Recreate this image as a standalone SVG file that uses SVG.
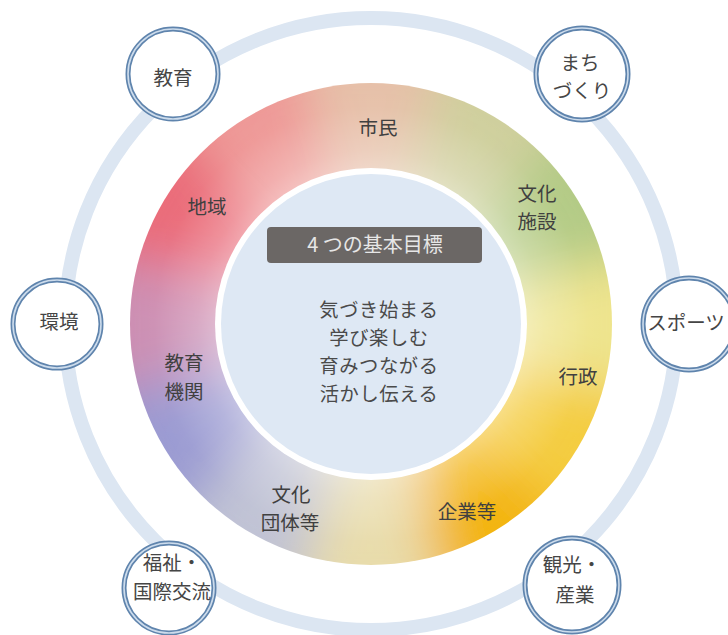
<svg xmlns="http://www.w3.org/2000/svg" width="728" height="635" viewBox="0 0 728 635">
<style>
.lbl{font-family:"Noto Sans CJK JP","Noto Sans",sans-serif;font-size:19.5px;fill:#404040;text-anchor:middle}
.nd{font-family:"Noto Sans CJK JP","Noto Sans",sans-serif;font-size:19.5px;fill:#454545;text-anchor:middle}
.goal{font-family:"Noto Sans CJK JP","Noto Sans",sans-serif;font-size:19.3px;fill:#4a4a4a;text-anchor:middle;letter-spacing:0.6px}
.ttl{font-family:"Noto Sans CJK JP","Noto Sans",sans-serif;font-size:20px;fill:#e6e6e6;text-anchor:middle}
.ring1{fill:#ffffff;stroke:#5f84ad;stroke-width:5}
.ring2{fill:none;stroke:#cddcec;stroke-width:1.6}
</style>
<defs>
<clipPath id="donutClip"><circle cx="371" cy="324" r="241"/></clipPath>
<filter id="blur" filterUnits="userSpaceOnUse" x="0" y="0" width="728" height="635"><feGaussianBlur stdDeviation="25"/></filter>
<radialGradient id="shine" gradientUnits="userSpaceOnUse" cx="371" cy="324" r="241">
<stop offset="0.62" stop-color="#ffffff" stop-opacity="0.42"/>
<stop offset="0.72" stop-color="#ffffff" stop-opacity="0.25"/>
<stop offset="0.9" stop-color="#ffffff" stop-opacity="0.04"/>
<stop offset="1" stop-color="#ffffff" stop-opacity="0"/>
</radialGradient>
</defs>
<rect width="728" height="635" fill="#ffffff"/>
<circle id="outer-ring" cx="371" cy="324" r="306" fill="none" stroke="#dce6f2" stroke-width="14"/>
<g id="donut">
<g clip-path="url(#donutClip)">
<g filter="url(#blur)">
<g transform="translate(371,324)">
<path d="M0,0 L-77.6,-289.8 L77.6,-289.8 Z" fill="#e6c0a8"/>
<path d="M0,0 L77.6,-289.8 L212.1,-212.1 Z" fill="#cfcf9c"/>
<path d="M0,0 L212.1,-212.1 L289.8,-77.6 Z" fill="#b2ca84"/>
<path d="M0,0 L289.8,-77.6 L289.8,77.6 Z" fill="#eee48c"/>
<path d="M0,0 L289.8,77.6 L212.1,212.1 Z" fill="#f4cc3c"/>
<path d="M0,0 L212.1,212.1 L77.6,289.8 Z" fill="#f3b40c"/>
<path d="M0,0 L77.6,289.8 L-77.6,289.8 Z" fill="#e8dcaa"/>
<path d="M0,0 L-77.6,289.8 L-212.1,212.1 Z" fill="#c0c2d4"/>
<path d="M0,0 L-212.1,212.1 L-289.8,77.6 Z" fill="#9a9ad2"/>
<path d="M0,0 L-289.8,77.6 L-289.8,-77.6 Z" fill="#cc8eb2"/>
<path d="M0,0 L-289.8,-77.6 L-212.1,-212.1 Z" fill="#ea6a78"/>
<path d="M0,0 L-212.1,-212.1 L-77.6,-289.8 Z" fill="#ee9896"/>
</g>
</g>
</g>
<circle cx="371" cy="324" r="241" fill="url(#shine)"/>
<circle cx="371" cy="324" r="156" fill="#ffffff"/>
<circle cx="371" cy="324" r="150" fill="#dee8f4"/>
</g>
<g id="connectors"></g>
<g id="label-shimin"><text class="lbl" x="378" y="135">市民</text></g>
<g id="label-bunka-shisetsu"><text class="lbl" x="537" y="201">文化</text><text class="lbl" x="537" y="229">施設</text></g>
<g id="label-chiiki"><text class="lbl" x="207" y="214">地域</text></g>
<g id="label-kyoiku-kikan"><text class="lbl" x="184" y="370">教育</text><text class="lbl" x="184" y="399">機関</text></g>
<g id="label-gyosei"><text class="lbl" x="578" y="384">行政</text></g>
<g id="label-kigyo"><text class="lbl" x="467" y="519">企業等</text></g>
<g id="label-bunka-dantai"><text class="lbl" x="291" y="502">文化</text><text class="lbl" x="290" y="530">団体等</text></g>
<g id="goals">
<rect x="267" y="227" width="215" height="36" rx="4" fill="#6b6765"/>
<text class="ttl" x="375" y="252">4 つの基本目標</text>
<text class="goal" x="379" y="317">気づき始まる</text>
<text class="goal" x="379" y="345">学び楽しむ</text>
<text class="goal" x="379" y="373">育みつながる</text>
<text class="goal" x="379" y="401">活かし伝える</text>
</g>
<g id="node-kyoiku"><circle class="ring1" cx="173" cy="74" r="45"/><circle class="ring2" cx="173" cy="74" r="45"/><text class="nd" x="173" y="85">教育</text></g>
<g id="node-machizukuri"><circle class="ring1" cx="582" cy="74" r="46"/><circle class="ring2" cx="582" cy="74" r="46"/><text class="nd" x="580" y="70">まち</text><text class="nd" x="582" y="98">づくり</text></g>
<g id="node-kankyo"><circle class="ring1" cx="57" cy="324" r="44"/><circle class="ring2" cx="57" cy="324" r="44"/><text class="nd" x="59" y="329">環境</text></g>
<g id="node-sports"><circle class="ring1" cx="689" cy="324" r="46"/><circle class="ring2" cx="689" cy="324" r="46"/><text class="nd" x="686" y="330">スポーツ</text></g>
<g id="node-fukushi"><circle class="ring1" cx="169" cy="588" r="45"/><circle class="ring2" cx="169" cy="588" r="45"/><text class="nd" x="172" y="570">福祉・</text><text class="nd" x="172" y="599">国際交流</text></g>
<g id="node-kanko"><circle class="ring1" cx="572" cy="585" r="47"/><circle class="ring2" cx="572" cy="585" r="47"/><text class="nd" x="572" y="572">観光・</text><text class="nd" x="575" y="602">産業</text></g>
</svg>
